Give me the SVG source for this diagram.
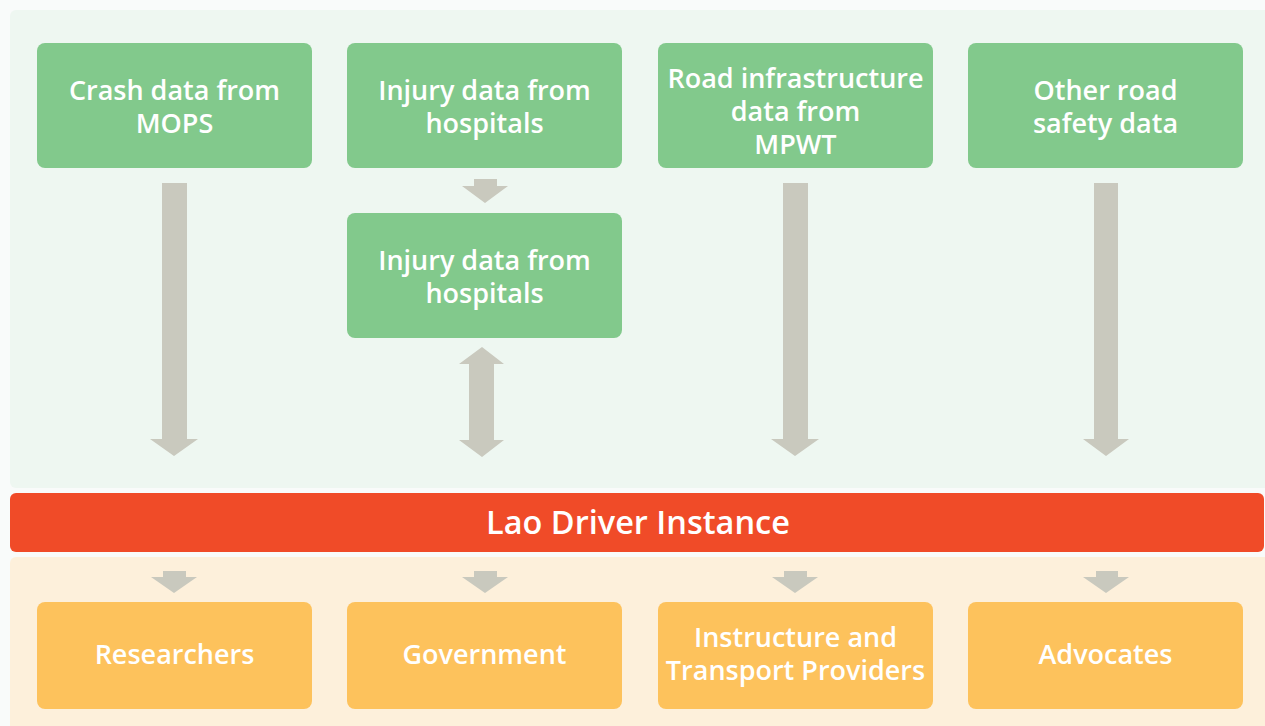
<svg xmlns="http://www.w3.org/2000/svg" width="1265" height="726" viewBox="0 0 1265 726">
<style>
.t{font-family:"Open Sans","Noto Sans","Liberation Sans",sans-serif;font-size:27px;font-weight:600;fill:#ffffff;text-anchor:middle}
.g{fill:#82C98C}
.o{fill:#FDC25C}
.a{fill:#C9C9BE}
</style>
<rect x="0" y="0" width="1265" height="726" fill="#F9FBFA"/>
<rect x="10" y="10" width="1265" height="478" rx="6" fill="#EEF7F1"/>
<rect x="10" y="557" width="1265" height="180" rx="6" fill="#FDF0DB"/>
<g id="connectors">
<path class="a" d="M162 183H187V439H198L174 456L150 439H162Z"/>
<path class="a" d="M474 179H497V186H508L485 203L462 186H474Z"/>
<path class="a" d="M482 347L504 364H494V440H504L482 457L459 440H469V364H459Z"/>
<path class="a" d="M783 183H808V439H819L795 456L771 439H783Z"/>
<path class="a" d="M1094 183H1118V439H1129L1106 456L1083 439H1094Z"/>
<path class="a" d="M163 571H186V577H197L174 593L151 577H163Z"/>
<path class="a" d="M474 571H497V577H508L485 593L462 577H474Z"/>
<path class="a" d="M784 571H807V577H818L795 593L772 577H784Z"/>
<path class="a" d="M1096 571H1118V577H1129L1106 593L1083 577H1096Z"/>
</g>
<g id="crash"><rect class="g" x="37" y="43" width="275" height="125" rx="8"/><text class="t" x="174.5" y="100">Crash data from</text><text class="t" x="174.5" y="133">MOPS</text></g>
<g id="injury1"><rect class="g" x="347" y="43" width="275" height="125" rx="8"/><text class="t" x="484.5" y="100">Injury data from</text><text class="t" x="484.5" y="133">hospitals</text></g>
<g id="road"><rect class="g" x="658" y="43" width="275" height="125" rx="8"/><text class="t" x="795.5" y="88">Road infrastructure</text><text class="t" x="795.5" y="121">data from</text><text class="t" x="795.5" y="154">MPWT</text></g>
<g id="other"><rect class="g" x="968" y="43" width="275" height="125" rx="8"/><text class="t" x="1105.5" y="100">Other road</text><text class="t" x="1105.5" y="133">safety data</text></g>
<g id="injury2"><rect class="g" x="347" y="213" width="275" height="125" rx="8"/><text class="t" x="484.5" y="270">Injury data from</text><text class="t" x="484.5" y="303">hospitals</text></g>
<g id="lao"><rect x="10" y="493" width="1254" height="59" rx="6" fill="#F04B28"/><text class="t" x="638" y="534" style="font-size:32.5px">Lao Driver Instance</text></g>
<g id="researchers"><rect class="o" x="37" y="602" width="275" height="107" rx="8"/><text class="t" x="174.5" y="664">Researchers</text></g>
<g id="government"><rect class="o" x="347" y="602" width="275" height="107" rx="8"/><text class="t" x="484.5" y="664">Government</text></g>
<g id="instructure"><rect class="o" x="658" y="602" width="275" height="107" rx="8"/><text class="t" x="795.5" y="647">Instructure and</text><text class="t" x="795.5" y="680">Transport Providers</text></g>
<g id="advocates"><rect class="o" x="968" y="602" width="275" height="107" rx="8"/><text class="t" x="1105.5" y="664">Advocates</text></g>
</svg>
